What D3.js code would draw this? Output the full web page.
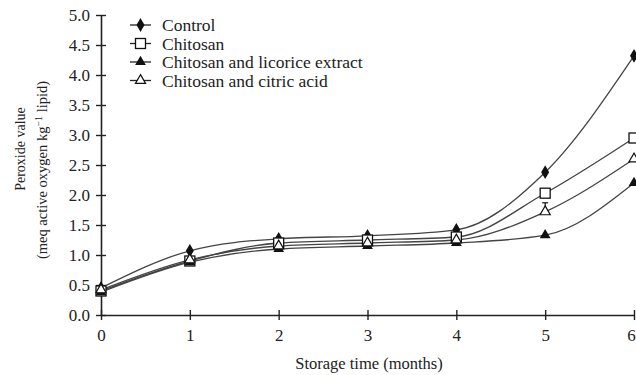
<!DOCTYPE html>
<html><head><meta charset="utf-8">
<script src="https://cdn.jsdelivr.net/npm/d3@7"></script>
<style>body{margin:0;background:#fff}text{font-family:"Liberation Serif","Times New Roman",serif;fill:#222}</style>
</head><body><svg id="c" width="636" height="375"></svg>
<script>
const months = [0, 1, 2, 3, 4, 5, 6];
const seriesNames = ["Control", "Chitosan", "Chitosan and licorice extract", "Chitosan and citric acid"];
const control = [0.45, 1.07, 1.27, 1.32, 1.42, 2.38, 4.32];
const chitosan = [0.40, 0.90, 1.20, 1.25, 1.30, 2.03, 2.95];
const licorice = [0.38, 0.88, 1.10, 1.15, 1.20, 1.33, 2.20];
const citric = [0.42, 0.92, 1.15, 1.20, 1.25, 1.72, 2.60];
const citricErr = [0, 0, 0, 0, 0, 0.15, 0];
const yTicks = [0, 0.5, 1, 1.5, 2, 2.5, 3, 3.5, 4, 4.5, 5];

const series = [
  {name: seriesNames[0], values: control, marker: "diamond"},
  {name: seriesNames[1], values: chitosan, marker: "square"},
  {name: seriesNames[2], values: licorice, marker: "triFilled"},
  {name: seriesNames[3], values: citric, marker: "triOpen", err: citricErr}
];

const svg = d3.select("#c");
const x = d3.scaleLinear().domain([0, 6]).range([101, 634]);
const y = d3.scaleLinear().domain([0, 5]).range([315, 15]);

// axes
const xa = svg.append("g").attr("transform", "translate(0,315)")
  .call(d3.axisBottom(x).tickValues(months).tickFormat(d3.format("d")).tickSizeInner(6).tickSizeOuter(0));
xa.selectAll(".tick line").attr("y1", -5).attr("y2", 5);
const ya = svg.append("g").attr("transform", "translate(101,0)")
  .call(d3.axisLeft(y).tickValues(yTicks).tickFormat(d3.format(".1f")).tickSizeInner(6).tickSizeOuter(0));
ya.selectAll(".tick line").attr("x1", -5).attr("x2", 5);
[xa, ya].forEach(a => {
  a.select(".domain").attr("stroke", "#222").attr("stroke-width", 1.6);
  a.selectAll(".tick line").attr("stroke", "#222").attr("stroke-width", 1.4);
  a.selectAll("text").style("font-size", "17px").attr("fill", "#222");
});
ya.selectAll("text").attr("x", -11);
xa.selectAll("text").attr("y", 14);
// keep the last x label inside the window
xa.selectAll(".tick").filter(d => d === 6).select("text").attr("dx", -3);

// lines
const line = d3.line().x((d, i) => x(months[i])).y(d => y(d)).curve(d3.curveMonotoneX);
series.forEach(s => {
  svg.append("path").attr("d", line(s.values)).attr("fill", "none")
    .attr("stroke", "#444").attr("stroke-width", 1.3);
});

function drawMarker(g, type, cx, cy) {
  if (type === "diamond") {
    g.append("path").attr("d", d3.symbol(d3.symbolDiamond, 55)()).attr("transform", `translate(${cx},${cy})`).attr("fill", "#111");
  } else if (type === "square") {
    g.append("rect").attr("x", cx - 5).attr("y", cy - 5).attr("width", 10).attr("height", 10)
      .attr("fill", "#fff").attr("stroke", "#111").attr("stroke-width", 1.3);
  } else if (type === "triFilled") {
    g.append("path").attr("d", d3.symbol(d3.symbolTriangle, 50)()).attr("transform", `translate(${cx},${cy})`).attr("fill", "#111");
  } else {
    g.append("path").attr("d", d3.symbol(d3.symbolTriangle, 45)()).attr("transform", `translate(${cx},${cy})`)
      .attr("fill", "#fff").attr("stroke", "#111").attr("stroke-width", 1.2);
  }
}

// error bars and markers
series.forEach(s => {
  const g = svg.append("g");
  if (s.err) s.values.forEach((v, i) => {
    if (!s.err[i]) return;
    const cx = x(months[i]);
    g.append("line").attr("x1", cx).attr("x2", cx).attr("y1", y(v + s.err[i])).attr("y2", y(v)).attr("stroke", "#111").attr("stroke-width", 1.2);
    g.append("line").attr("x1", cx - 3).attr("x2", cx + 3).attr("y1", y(v + s.err[i])).attr("y2", y(v + s.err[i])).attr("stroke", "#111").attr("stroke-width", 1.2);
  });
  s.values.forEach((v, i) => drawMarker(g, s.marker, x(months[i]), y(v)));
});

// legend
const lg = svg.append("g");
series.forEach((s, i) => {
  const ly = 25 + i * 18.5;
  lg.append("line").attr("x1", 130).attr("x2", 151).attr("y1", ly).attr("y2", ly).attr("stroke", "#222").attr("stroke-width", 1.3);
  drawMarker(lg, s.marker, 140.5, ly);
  lg.append("text").attr("x", 162).attr("y", ly + 6).style("font-size", "17.5px").text(s.name);
});

// axis titles
svg.append("text").attr("x", 369).attr("y", 369).attr("text-anchor", "middle").style("font-size", "16.5px").text("Storage time (months)");
svg.append("text").attr("transform", "translate(25,149) rotate(-90)").attr("text-anchor", "middle").style("font-size", "14px").text("Peroxide value");
const t2 = svg.append("text").attr("transform", "translate(47,170) rotate(-90)").attr("text-anchor", "middle").style("font-size", "14.5px");
t2.append("tspan").text("(meq  active oxygen kg");
t2.append("tspan").attr("dy", -5).style("font-size", "10px").text("−1");
t2.append("tspan").attr("dy", 5).text("  lipid)");
</script></body></html>
